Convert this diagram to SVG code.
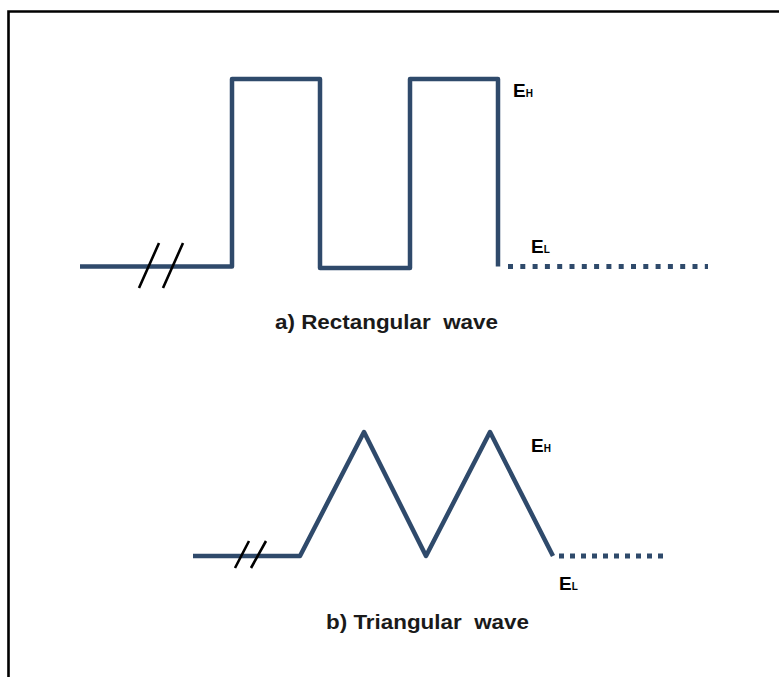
<svg xmlns="http://www.w3.org/2000/svg" width="779" height="677" viewBox="0 0 779 677">
<style>
.wave{fill:none;stroke:#2F4A6B;stroke-width:4.5;stroke-linejoin:round;stroke-linecap:butt}
.dot{fill:none;stroke:#2F4A6B;stroke-width:5;stroke-linecap:butt}
.brk{stroke:#000;stroke-width:2.6;fill:none}
.lbl{font-family:"Liberation Sans",Arial,sans-serif;font-weight:bold;fill:#000}
.cap{font-family:"Liberation Sans",Arial,sans-serif;font-weight:bold;font-size:20px;fill:#1a1a1a}
</style>
<rect x="0" y="0" width="779" height="677" fill="#fff"/>
<path d="M8.5 677 V11.5 H779" fill="none" stroke="#000" stroke-width="2.6"/>
<g id="rectangular-wave">
<path class="wave" d="M80 266.5 H232 V79 H320 V268 H410 V79 H498 V266.5"/>
<path class="dot" d="M508 266.5 H708" stroke-dasharray="5 7.3"/>
<path class="brk" d="M159 243 L139 288 M183 243 L163 288"/>
<text class="lbl" x="513" y="97" font-size="19">E<tspan font-size="10">H</tspan></text>
<text class="lbl" x="531" y="253" font-size="19">E<tspan font-size="10">L</tspan></text>
<text class="cap" x="275" y="329" textLength="223" lengthAdjust="spacingAndGlyphs">a) Rectangular&#160; wave</text>
</g>
<g id="triangular-wave">
<path class="wave" d="M193 556 H300 L364 432 L426 556 L490 432 L553 556"/>
<path class="dot" d="M559 556 H665" stroke-dasharray="5 6"/>
<path class="brk" d="M249 541 L235 568 M266 541 L251 568"/>
<text class="lbl" x="531" y="452" font-size="19">E<tspan font-size="10">H</tspan></text>
<text class="lbl" x="559" y="590" font-size="19">E<tspan font-size="10">L</tspan></text>
<text class="cap" x="326" y="629" textLength="203" lengthAdjust="spacingAndGlyphs">b) Triangular&#160; wave</text>
</g>
</svg>
